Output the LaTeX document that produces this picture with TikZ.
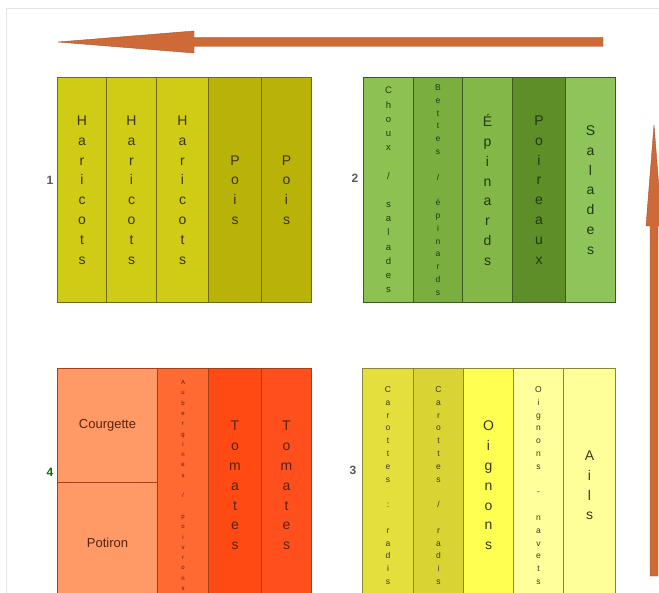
\documentclass[tikz,border=0pt]{standalone}
\usepackage{fontspec}
\setmainfont{Liberation Sans}
\definecolor{arrowfill}{HTML}{CE6A38}
\definecolor{arrowdraw}{HTML}{A5542B}
\definecolor{frame}{HTML}{E4E4E4}
% block 1
\definecolor{hari}{HTML}{D0CB14}
\definecolor{pois}{HTML}{B9B208}
\definecolor{bordA}{HTML}{6E6A10}
\definecolor{txtA}{HTML}{38350A}
% block 2
\definecolor{chou}{HTML}{8DC152}
\definecolor{bett}{HTML}{7AAE3E}
\definecolor{epin}{HTML}{83B848}
\definecolor{poir}{HTML}{5E8E28}
\definecolor{sala}{HTML}{8EC45A}
\definecolor{bordB}{HTML}{3C5A24}
\definecolor{txtB}{HTML}{223810}
% block 4
\definecolor{courg}{HTML}{FF9966}
\definecolor{aube}{HTML}{FF6A33}
\definecolor{toma}{HTML}{FF4A14}
\definecolor{tomb}{HTML}{FF4F1C}
\definecolor{bordD}{HTML}{A83E18}
\definecolor{txtD}{HTML}{5A220E}
% block 3
\definecolor{caro}{HTML}{E4DF3C}
\definecolor{carb}{HTML}{D9D434}
\definecolor{oign}{HTML}{FFFF52}
\definecolor{onav}{HTML}{FFFF9C}
\definecolor{ails}{HTML}{FFFF9A}
\definecolor{bordC}{HTML}{8A8638}
\definecolor{txtC}{HTML}{3A3A18}
\begin{document}
\begin{tikzpicture}[x=1pt,y=-1pt,
  cell/.style={draw=#1, line width=1pt, inner sep=0pt, anchor=north west, align=center},
  bigtxt/.style={font=\fontsize{14}{19.8}\selectfont},
  midtxt/.style={font=\fontsize{9.5}{14.2}\selectfont},
  smtxt/.style={font=\fontsize{8.5}{12.8}\selectfont},
  tinytxt/.style={font=\fontsize{6}{10.3}\selectfont},
  numlbl/.style={font=\fontsize{12}{14}\selectfont\bfseries, inner sep=0pt},
  arrowshape/.style={fill=arrowfill, draw=arrowdraw, line width=0.4pt, line join=round}
]
\useasboundingbox (0,0) rectangle (659,593);
\clip (0,0) rectangle (659,593);
\fill[white] (0,0) rectangle (659,593);
% light frame
\draw[frame, line width=0.8pt] (6,620) -- (6,8) -- (670,8);

% ---------- Block 1 ----------
\node[cell=bordA, fill=hari, minimum width=49pt, minimum height=225pt, text=txtA, bigtxt] (h1) at (57,77) {H\\a\\r\\i\\c\\o\\t\\s};
\node[cell=bordA, fill=hari, minimum width=50pt, minimum height=225pt, text=txtA, bigtxt] (h2) at (106,77) {H\\a\\r\\i\\c\\o\\t\\s};
\node[cell=bordA, fill=hari, minimum width=52pt, minimum height=225pt, text=txtA, bigtxt] (h3) at (156,77) {H\\a\\r\\i\\c\\o\\t\\s};
\node[cell=bordA, fill=pois, minimum width=53pt, minimum height=225pt, text=txtA, bigtxt] (p1) at (208,77) {P\\o\\i\\s};
\node[cell=bordA, fill=pois, minimum width=50pt, minimum height=225pt, text=txtA, bigtxt] (p2) at (261,77) {P\\o\\i\\s};
\node[numlbl, text=black!65] (l1) at (50,180) {1};

% ---------- Block 2 ----------
\node[cell=bordB, fill=chou, minimum width=50pt, minimum height=225pt, text=txtB, midtxt] (b1) at (363,77) {C\\h\\o\\u\\x\\~\\/\\~\\s\\a\\l\\a\\d\\e\\s};
\node[cell=bordB, fill=bett, minimum width=49pt, minimum height=225pt, text=txtB, smtxt] (b2) at (413,77) {B\\e\\t\\t\\e\\s\\~\\/\\~\\é\\p\\i\\n\\a\\r\\d\\s};
\node[cell=bordB, fill=epin, minimum width=50pt, minimum height=225pt, text=txtB, bigtxt] (b3) at (462,77) {É\\p\\i\\n\\a\\r\\d\\s};
\node[cell=bordB, fill=poir, minimum width=53pt, minimum height=225pt, text=txtB, bigtxt] (b4) at (512,77) {P\\o\\i\\r\\e\\a\\u\\x};
\node[cell=bordB, fill=sala, minimum width=50pt, minimum height=225pt, text=txtB, bigtxt] (b5) at (565,77) {S\\a\\l\\a\\d\\e\\s};
\node[numlbl, text=black!65] (l2) at (355,178) {2};

% ---------- Block 4 ----------
\node[cell=bordD, fill=courg, minimum width=100pt, minimum height=114pt, text=txtD, font=\fontsize{13}{15}\selectfont] (d1) at (57,368) {Courgette};
\node[cell=bordD, fill=courg, minimum width=100pt, minimum height=120pt, text=txtD, font=\fontsize{13}{15}\selectfont] (d2) at (57,482) {Potiron};
\node[cell=bordD, fill=aube, minimum width=51pt, minimum height=234pt, text=txtD, tinytxt] (d3) at (157,368) {A\\u\\b\\e\\r\\g\\i\\n\\e\\s\\~\\/\\~\\p\\o\\i\\v\\r\\o\\n\\s};
\node[cell=bordD, fill=toma, minimum width=53pt, minimum height=234pt, text=txtD, bigtxt] (d4) at (208,368) {T\\o\\m\\a\\t\\e\\s};
\node[cell=bordD, fill=tomb, minimum width=50pt, minimum height=234pt, text=txtD, bigtxt] (d5) at (261,368) {T\\o\\m\\a\\t\\e\\s};
\node[numlbl, text=green!45!black] (l4) at (50,472) {4};

% ---------- Block 3 ----------
\node[cell=bordC, fill=caro, minimum width=51pt, minimum height=234pt, text=txtC, smtxt] (c1) at (362,368) {C\\a\\r\\o\\t\\t\\e\\s\\~\\:\\~\\r\\a\\d\\i\\s};
\node[cell=bordC, fill=carb, minimum width=50pt, minimum height=234pt, text=txtC, smtxt] (c2) at (413,368) {C\\a\\r\\o\\t\\t\\e\\s\\~\\/\\~\\r\\a\\d\\i\\s};
\node[cell=bordC, fill=oign, minimum width=50pt, minimum height=234pt, text=txtC, bigtxt] (c3) at (463,368) {O\\i\\g\\n\\o\\n\\s};
\node[cell=bordC, fill=onav, minimum width=50pt, minimum height=234pt, text=txtC, smtxt] (c4) at (513,368) {O\\i\\g\\n\\o\\n\\s\\~\\-\\~\\n\\a\\v\\e\\t\\s};
\node[cell=bordC, fill=ails, minimum width=52pt, minimum height=234pt, text=txtC, bigtxt] (c5) at (563,368) {A\\i\\l\\s};
\node[numlbl, text=black!65] (l3) at (353,470) {3};

% ---------- Arrows ----------
\coordinate (ttail) at (603,42);
\coordinate (ttip) at (58,42);
\path[arrowshape] (ttip) -- (194,31) -- (194,37.5) -- (603,37.5) -- (603,46.5) -- (194,46.5) -- (194,53) -- cycle;
\coordinate (rtail) at (654,576);
\coordinate (rtip) at (654,125);
\path[arrowshape] (rtip) -- (662,226) -- (658,226) -- (658,576) -- (650,576) -- (650,226) -- (646,226) -- cycle;
\end{tikzpicture}
\end{document}
